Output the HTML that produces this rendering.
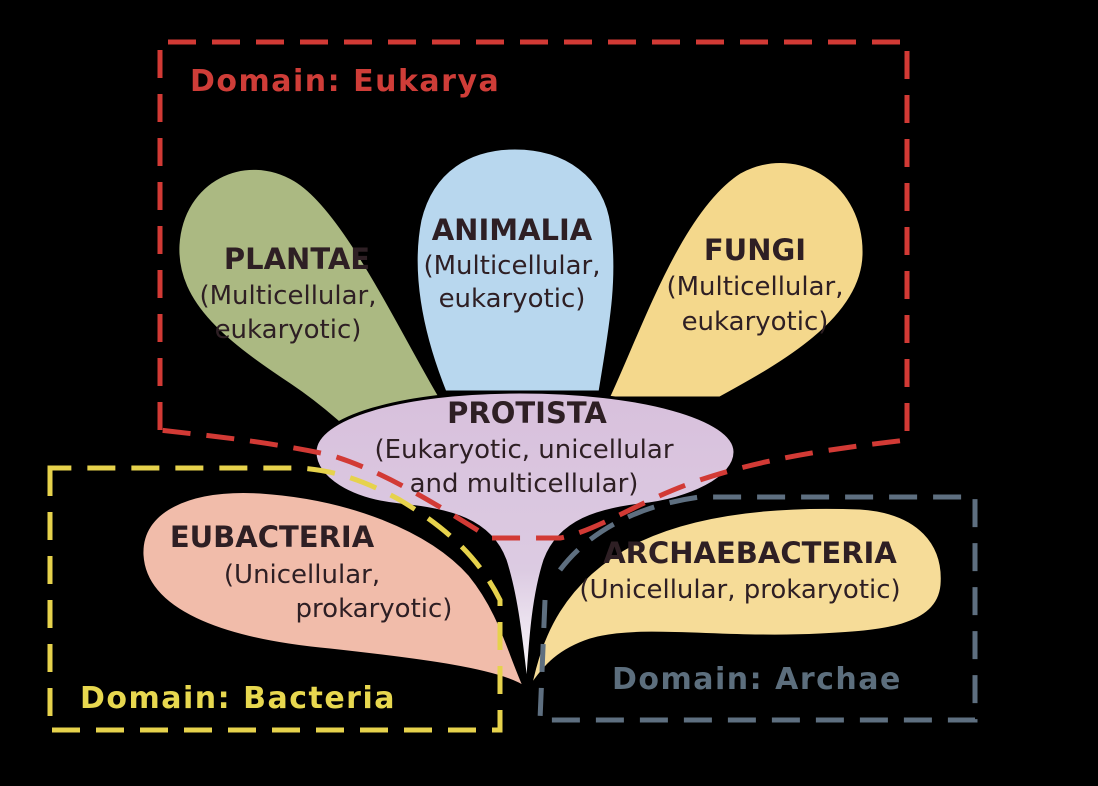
<!DOCTYPE html>
<html><head><meta charset="utf-8"><style>
html,body{margin:0;padding:0;background:#000;}
svg{display:block}
text{font-family:"DejaVu Sans","Liberation Sans",sans-serif;}
</style></head><body>
<svg width="1098" height="786" viewBox="0 0 1098 786" xmlns="http://www.w3.org/2000/svg">
<defs>
<linearGradient id="pg" x1="0" y1="0" x2="0" y2="1">
<stop offset="0" stop-color="#d8c0dc"/><stop offset="0.6" stop-color="#dccbe2"/><stop offset="1" stop-color="#ffffff"/>
</linearGradient>
</defs>
<rect width="1098" height="786" fill="#000"/>
<!-- Plantae -->
<path d="M442,400 C400,330 345,210 295,180 C245,150 182,180 178,245 C175,305 230,345 290,385 C320,405 335,420 345,428 Z" fill="#abb982" stroke="#000" stroke-width="3"/>
<!-- Fungi -->
<path d="M608,398 C640,330 680,210 740,172 C800,140 866,185 864,255 C862,320 780,365 720,398 Z" fill="#f4d88c" stroke="#000" stroke-width="3"/>
<!-- Animalia -->
<path d="M445,392 C420,330 410,270 420,220 C432,170 470,148 515,148 C565,148 605,175 612,225 C620,280 610,330 600,392 Z" fill="#b8d7ee" stroke="#000" stroke-width="3"/>
<!-- Protista with stem -->
<path d="M520,392 C640,392 735,418 735,452 C735,478 690,500 640,505 C600,510 560,520 545,560 C532,600 530,650 527,690 C522,650 518,600 505,560 C490,520 450,510 400,505 C350,500 315,478 315,452 C315,418 400,392 520,392 Z" fill="url(#pg)" stroke="#000" stroke-width="3"/>
<!-- Eubacteria -->
<path d="M525,688 C500,670 420,660 330,650 C220,640 145,610 142,555 C140,510 190,488 260,492 C350,498 430,530 470,575 C500,612 508,650 525,688 Z" fill="#f1bcaa" stroke="#000" stroke-width="3"/>
<!-- Archaebacteria -->
<path d="M530,688 C540,640 560,580 640,540 C700,512 780,505 860,508 C920,512 945,545 942,585 C938,628 880,632 820,635 C720,640 640,625 590,640 C560,650 545,665 530,688 Z" fill="#f6dc98" stroke="#000" stroke-width="3"/>
<!-- Domain boxes -->
<path d="M160,430 L160,42 L907,42 L907,440 C820,450 760,460 700,480 C640,500 600,530 560,538 L490,538 C430,500 380,470 330,455 C260,440 200,435 160,430" fill="none" stroke="#d23a35" stroke-width="5" stroke-dasharray="28,16"/>
<path d="M50,468 L50,730 L500,730 L500,600 C480,560 450,530 400,500 C360,478 330,470 300,468 Z" fill="none" stroke="#e6d24c" stroke-width="5" stroke-dasharray="28,16"/>
<path d="M545,600 L540,720 L975,720 L975,497 L700,497 C640,505 590,530 560,570" fill="none" stroke="#5e6f80" stroke-width="5" stroke-dasharray="28,16"/>
<!-- Labels -->
<text x="190" y="91" font-size="30" font-weight="bold" fill="#cf3d38" letter-spacing="1.5">Domain:  Eukarya</text>
<text x="80" y="708" font-size="30" font-weight="bold" fill="#e8d84f" letter-spacing="1.5">Domain:  Bacteria</text>
<text x="612" y="689" font-size="30" font-weight="bold" fill="#5c6e7d" letter-spacing="1.5">Domain:  Archae</text>
<g fill="#2e1f24" text-anchor="middle" font-size="26">
<text x="297" y="269" font-weight="bold" font-size="29">PLANTAE</text>
<text x="288" y="304">(Multicellular,</text>
<text x="288" y="338">eukaryotic)</text>
<text x="512" y="240" font-weight="bold" font-size="29">ANIMALIA</text>
<text x="512" y="274">(Multicellular,</text>
<text x="512" y="307">eukaryotic)</text>
<text x="755" y="260" font-weight="bold" font-size="29">FUNGI</text>
<text x="755" y="295">(Multicellular,</text>
<text x="755" y="330">eukaryotic)</text>
<text x="527" y="423" font-weight="bold" font-size="29">PROTISTA</text>
<text x="524" y="458">(Eukaryotic, unicellular</text>
<text x="524" y="492">and multicellular)</text>
<text x="272" y="547" font-weight="bold" font-size="29">EUBACTERIA</text>
<text x="302" y="583">(Unicellular,</text>
<text x="374" y="617">prokaryotic)</text>
<text x="750" y="563" font-weight="bold" font-size="29">ARCHAEBACTERIA</text>
<text x="740" y="598">(Unicellular, prokaryotic)</text>
</g>
</svg>
</body></html>
